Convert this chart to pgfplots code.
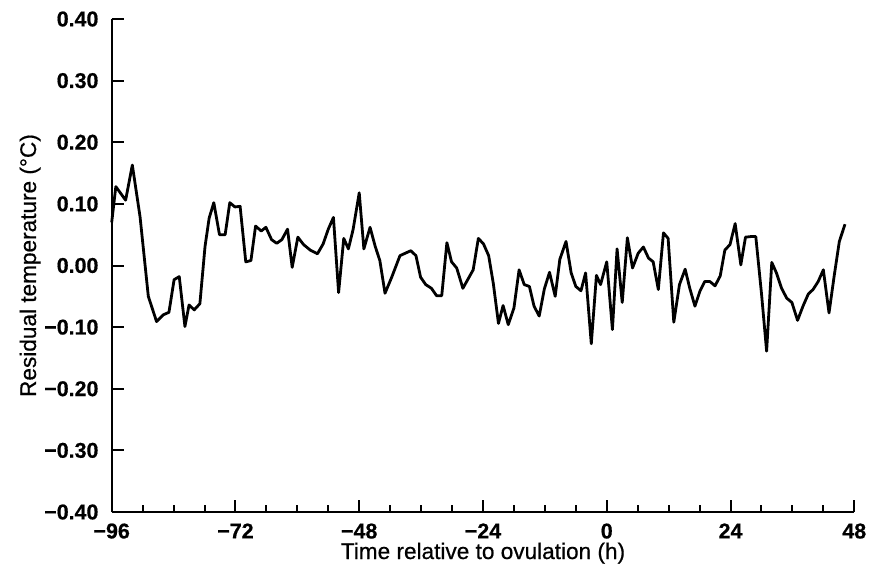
\documentclass[border=0pt]{standalone}
\usepackage{fontspec}
\setmainfont[FakeBold=0.6]{Liberation Sans}
\usepackage{pgfplots}
\pgfplotsset{compat=1.18}

% residual temperature
\pgfplotstableread{
t v
-96 0.070
-95.2 0.128
-93.3 0.106
-92.0 0.163
-90.5 0.079
-88.9 -0.050
-87.3 -0.091
-86.0 -0.080
-84.9 -0.076
-83.9 -0.023
-82.9 -0.018
-81.8 -0.099
-81.0 -0.064
-80.0 -0.072
-78.9 -0.062
-77.9 0.031
-77.1 0.077
-76.2 0.102
-75.1 0.050
-74.0 0.050
-73.1 0.102
-72.1 0.095
-71.1 0.096
-70.0 0.006
-69.0 0.008
-68.1 0.064
-67.0 0.056
-66.1 0.062
-65.0 0.042
-64.0 0.036
-63.0 0.042
-61.9 0.059
-61.0 -0.003
-59.9 0.046
-58.8 0.034
-57.5 0.025
-56.1 0.019
-55.0 0.035
-54.0 0.059
-53.0 0.078
-52.0 -0.044
-51.0 0.044
-50.1 0.027
-49.2 0.058
-48.0 0.118
-47.1 0.027
-45.9 0.062
-44.9 0.031
-44.0 0.008
-43.0 -0.045
-41.7 -0.019
-40.1 0.016
-38.0 0.024
-37.0 0.016
-36.1 -0.019
-35.1 -0.031
-34.0 -0.037
-33.0 -0.049
-32.0 -0.049
-31.0 0.037
-30.1 0.006
-29.1 -0.004
-27.9 -0.037
-26.9 -0.022
-25.9 -0.007
-24.9 0.044
-23.9 0.035
-22.9 0.016
-22.0 -0.029
-21.0 -0.094
-20.1 -0.065
-19.1 -0.096
-18.0 -0.069
-17.0 -0.007
-16.0 -0.031
-15.0 -0.034
-14.1 -0.066
-13.1 -0.082
-12.1 -0.038
-11.1 -0.011
-10.0 -0.050
-9.1 0.010
-7.9 0.039
-6.9 -0.012
-6.0 -0.034
-5.0 -0.041
-4.1 -0.012
-3.0 -0.127
-2.0 -0.016
-1.2 -0.031
0.0 0.006
1.1 -0.104
2.0 0.027
3.0 -0.060
4.0 0.045
5.0 -0.004
6.1 0.020
7.1 0.030
8.1 0.012
9.0 0.006
10.0 -0.039
11.0 0.053
11.9 0.044
13.0 -0.092
14.1 -0.031
15.2 -0.006
16.1 -0.037
17.1 -0.066
18.1 -0.041
19.0 -0.026
20.0 -0.026
21.0 -0.033
22.0 -0.017
22.9 0.025
23.9 0.034
24.9 0.068
26.0 0.001
26.9 0.046
28.0 0.047
28.9 0.047
30.0 -0.045
31.0 -0.139
32.0 0.005
32.9 -0.012
33.9 -0.037
34.9 -0.053
35.9 -0.060
37.0 -0.089
38.1 -0.065
39.1 -0.046
40.0 -0.039
41.0 -0.026
42.0 -0.007
43.1 -0.077
44.1 -0.017
45.1 0.039
46.2 0.067
}\residual

\begin{document}
\begin{tikzpicture}
\begin{axis}[
  scale only axis,
  width=371.3pt, height=246.5pt,
  xmin=-96, xmax=48, ymin=-0.4, ymax=0.4,
  axis x line*=bottom, axis y line*=left,
  axis line style={line width=1pt},
  tick align=inside,
  major tick length=6pt, minor tick length=3.5pt,
  every tick/.style={black, line width=1pt},
  xtick={-96,-72,-48,-24,0,24,48},
  xticklabels={−96,−72,−48,−24,0,24,48},
  minor x tick num=3,
  ytick={-0.4,-0.3,-0.2,-0.1,0,0.1,0.2,0.3,0.4},
  yticklabels={−0.40,−0.30,−0.20,−0.10,0.00,0.10,0.20,0.30,0.40},
  ticklabel style={font=\fontsize{10.7}{12}\bfseries},
  yticklabel style={xshift=-3.1pt},
  xticklabel style={yshift=-2.2pt},
  xlabel={Time relative to ovulation (h)},
  ylabel={Residual temperature (°C)},
  every axis x label/.style={at={(rel axis cs:0.5,0)}, yshift=-23.5pt, anchor=base,
    font=\fontsize{11.3}{13}\selectfont},
  every axis y label/.style={at={(rel axis cs:0,0.5)}, xshift=-37.85pt, rotate=90, anchor=base,
    font=\fontsize{11.3}{13}\selectfont},
  clip=false,
]
\addplot[black, line width=1.4pt, line join=round] table[x=t, y=v] {\residual};
\end{axis}
\pgfresetboundingbox
\path[use as bounding box] (current axis.south west) ++(-55.85pt,-28.5pt) rectangle ++(434.5pt,284.5pt);
\end{tikzpicture}
\end{document}
